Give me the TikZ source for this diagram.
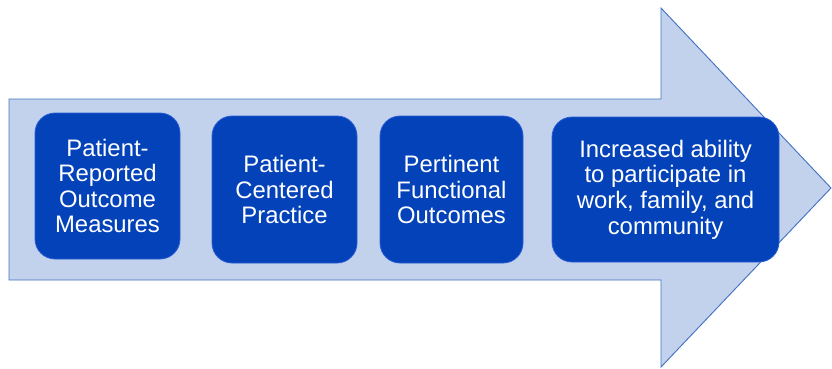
\documentclass[tikz,border=0pt]{standalone}
\usepackage{fontspec}
\setmainfont{Liberation Sans}
\definecolor{arrowfill}{HTML}{C3D2EC}
\definecolor{arrowline}{HTML}{4472C4}
\definecolor{boxfill}{HTML}{0342B8}
\definecolor{boxline}{HTML}{2A5CD6}
\begin{document}
\begin{tikzpicture}[x=0.75pt,y=-0.75pt,
  stage/.style={draw=boxline, line width=0.6pt, fill=boxfill, rounded corners=15pt,
    text=white, align=center, inner sep=0pt,
    font=\fontsize{17.9pt}{19.2pt}\selectfont}]
\useasboundingbox (0,0) rectangle (832,368);
\fill[white] (0,0) rectangle (832,368);
\draw[arrowline, fill=arrowfill, line width=0.7pt, line join=miter]
  (9,99) -- (661,99) -- (661,8) -- (831,188) -- (661,367) -- (661,280) -- (9,280) -- cycle;
\node[stage, minimum width=108.75pt, minimum height=109.5pt] (b1) at (107.5,186) {Patient-\\Reported\\Outcome\\Measures};
\node[stage, minimum width=108.75pt, minimum height=110.25pt] (b2) at (284.5,189.5) {Patient-\\Centered\\Practice};
\node[stage, minimum width=107.25pt, minimum height=110.25pt] (b3) at (451.5,189.5) {Pertinent\\Functional\\Outcomes};
\node[stage, minimum width=170.25pt, minimum height=108.75pt] (b4) at (665.5,189.5) {Increased ability\\to participate in\\work, family, and\\community};
\end{tikzpicture}
\end{document}
